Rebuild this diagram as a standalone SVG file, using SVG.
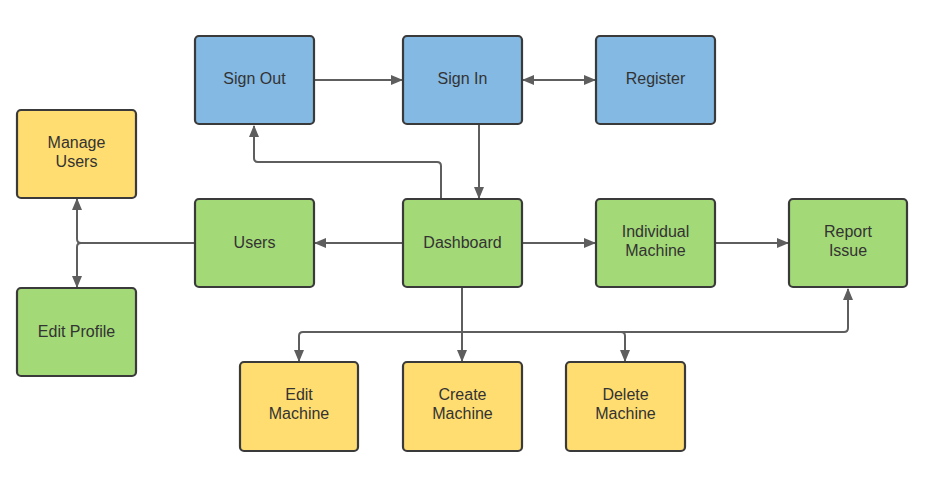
<svg xmlns="http://www.w3.org/2000/svg" width="940" height="484" viewBox="0 0 940 484">
<defs>
<marker id="ah" viewBox="0 0 12 12" refX="11" refY="6" markerWidth="12" markerHeight="12" markerUnits="userSpaceOnUse" orient="auto-start-reverse">
<path d="M0,1 L12,6 L0,11 Z" fill="#5e5e5e"/>
</marker>
<style>
.n rect{stroke:#3a3a3a;stroke-width:2.2}
.blue rect{fill:#83b9e3}
.green rect{fill:#a3d977}
.yellow rect{fill:#ffdd71}
.n text{font-family:"Liberation Sans",Arial,sans-serif;font-size:16px;fill:#333;text-anchor:middle}
.c path{fill:none;stroke:#5e5e5e;stroke-width:2}
</style>
</defs>
<rect width="940" height="484" fill="#fff"/>
<g class="c">
<path d="M314,80 H402" marker-end="url(#ah)"/>
<path d="M523,80 H595" marker-start="url(#ah)" marker-end="url(#ah)"/>
<path d="M479,125 V198" marker-end="url(#ah)"/>
<path d="M441,198 V166 Q441,162 437,162 H258 Q254,162 254,158 V126" marker-end="url(#ah)"/>
<path d="M402,243 H315" marker-end="url(#ah)"/>
<path d="M195,243 H81 Q77,243 77,239 V199" marker-end="url(#ah)"/>
<path d="M81,243 Q77,243 77,247 V287" marker-end="url(#ah)"/>
<path d="M522,243 H595" marker-end="url(#ah)"/>
<path d="M715,243 H788" marker-end="url(#ah)"/>
<path d="M462,288 V361" marker-end="url(#ah)"/>
<path d="M299,361 V336 Q299,332 303,332 H844 Q848,332 848,328 V289" marker-start="url(#ah)" marker-end="url(#ah)"/>
<path d="M621,332 Q625,332 625,336 V361" marker-end="url(#ah)"/>
</g>
<g id="sign-out" class="n blue"><rect x="195" y="36" width="119" height="88" rx="4"/><text x="254.5" y="84">Sign Out</text></g>
<g id="sign-in" class="n blue"><rect x="403" y="36" width="119" height="88" rx="4"/><text x="462.5" y="84">Sign In</text></g>
<g id="register" class="n blue"><rect x="596" y="36" width="119" height="88" rx="4"/><text x="655.5" y="84">Register</text></g>
<g id="manage-users" class="n yellow"><rect x="17" y="110" width="119" height="88" rx="4"/><text x="76.5" y="148">Manage</text><text x="76.5" y="167">Users</text></g>
<g id="users" class="n green"><rect x="195" y="199" width="119" height="88" rx="4"/><text x="254.5" y="247.5">Users</text></g>
<g id="dashboard" class="n green"><rect x="403" y="199" width="119" height="88" rx="4"/><text x="462.5" y="247.5">Dashboard</text></g>
<g id="individual-machine" class="n green"><rect x="596" y="199" width="119" height="88" rx="4"/><text x="655.5" y="237">Individual</text><text x="655.5" y="256">Machine</text></g>
<g id="report-issue" class="n green"><rect x="789" y="199" width="118" height="88" rx="4"/><text x="848" y="237">Report</text><text x="848" y="256">Issue</text></g>
<g id="edit-profile" class="n green"><rect x="17" y="288" width="119" height="88" rx="4"/><text x="76.5" y="336.5">Edit Profile</text></g>
<g id="edit-machine" class="n yellow"><rect x="240" y="362" width="118" height="89" rx="4"/><text x="299" y="400">Edit</text><text x="299" y="419">Machine</text></g>
<g id="create-machine" class="n yellow"><rect x="403" y="362" width="119" height="89" rx="4"/><text x="462.5" y="400">Create</text><text x="462.5" y="419">Machine</text></g>
<g id="delete-machine" class="n yellow"><rect x="566" y="362" width="119" height="89" rx="4"/><text x="625.5" y="400">Delete</text><text x="625.5" y="419">Machine</text></g>
</svg>
